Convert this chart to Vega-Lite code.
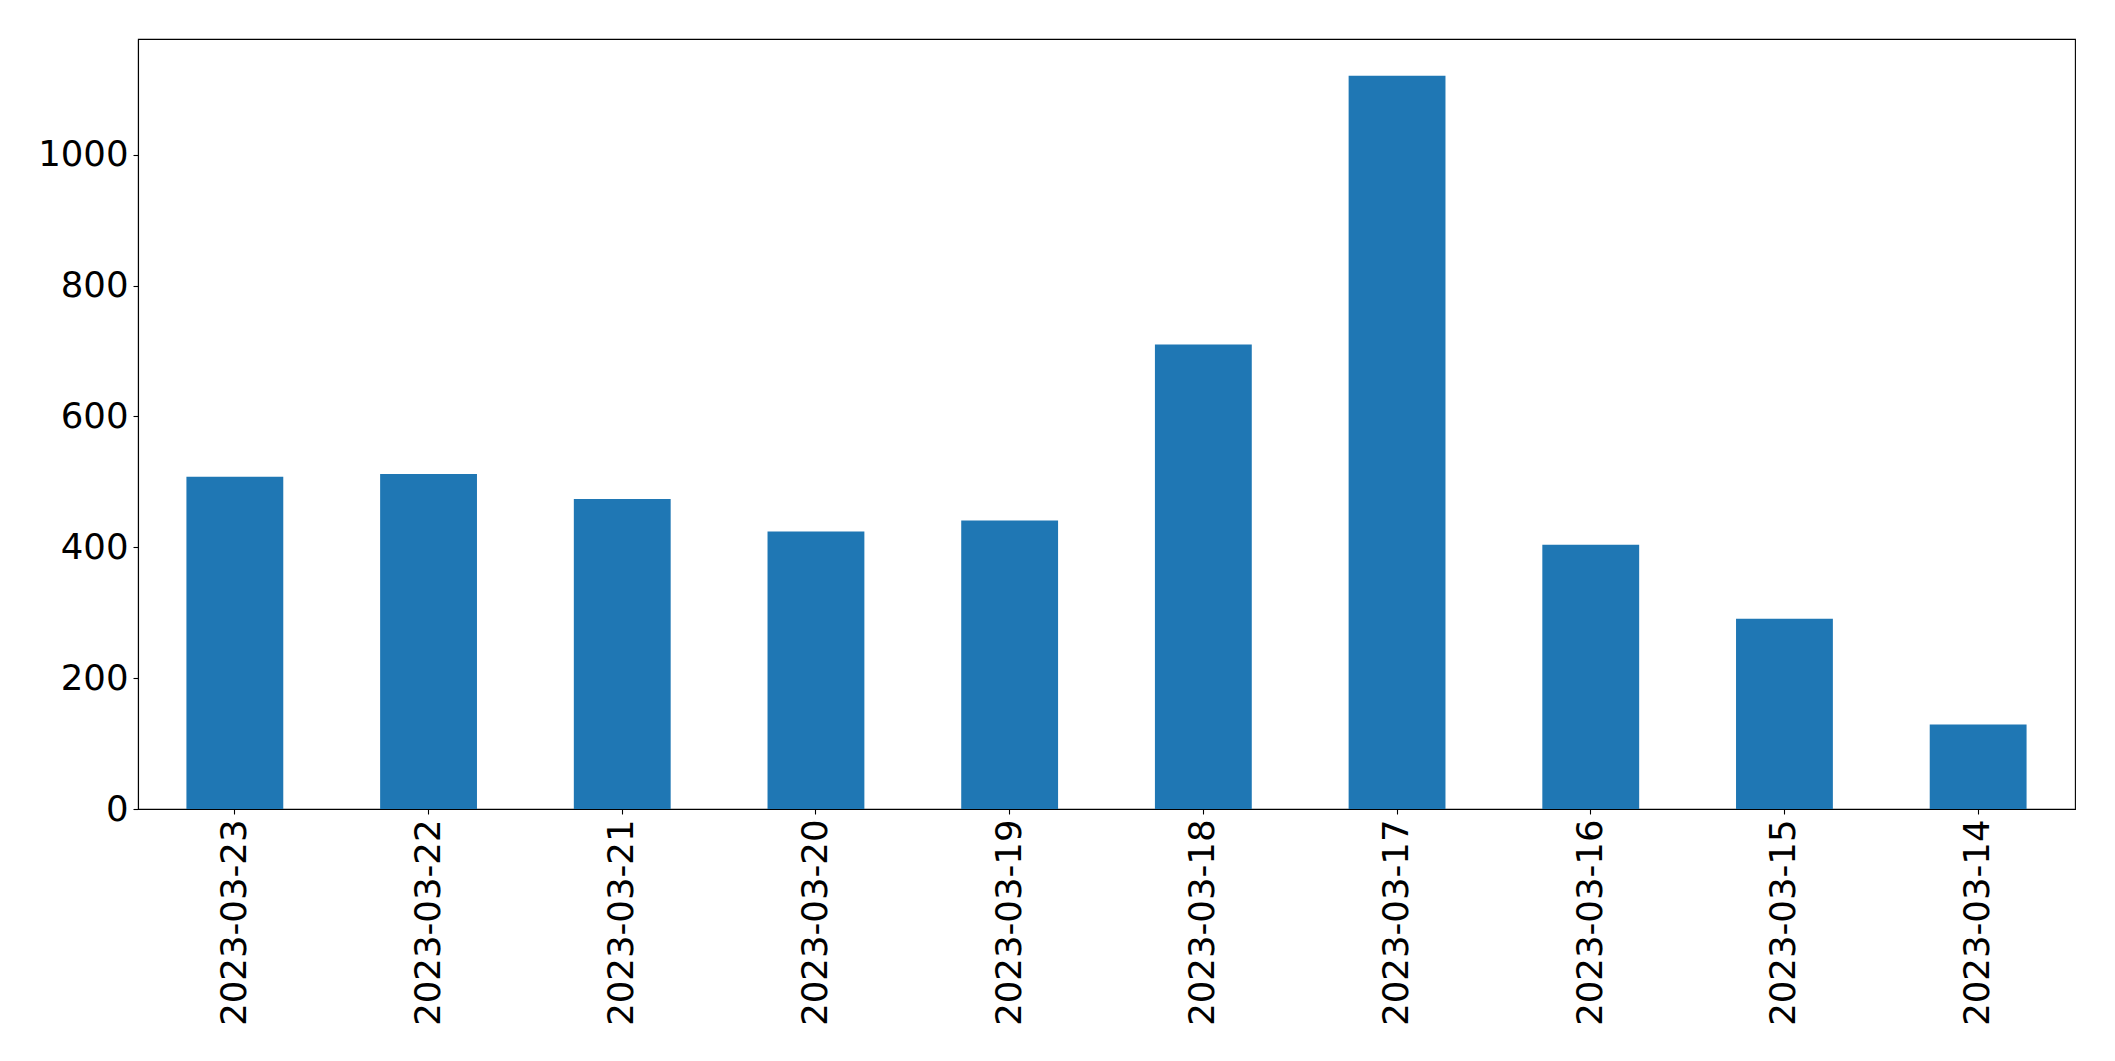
{
  "$schema": "https://vega.github.io/schema/vega-lite/v6.json",
  "width": 1937,
  "height": 770,
  "autosize": {"type": "none"},
  "padding": {"left": 138, "top": 39, "right": 40, "bottom": 252},
  "background": "white",
  "data": {
    "values": [
      {"date": "2023-03-23", "count": 508},
      {"date": "2023-03-22", "count": 512},
      {"date": "2023-03-21", "count": 474},
      {"date": "2023-03-20", "count": 424},
      {"date": "2023-03-19", "count": 441},
      {"date": "2023-03-18", "count": 710},
      {"date": "2023-03-17", "count": 1121},
      {"date": "2023-03-16", "count": 404},
      {"date": "2023-03-15", "count": 291},
      {"date": "2023-03-14", "count": 129}
    ]
  },
  "mark": {"type": "bar", "color": "#1f77b4"},
  "encoding": {
    "x": {
      "field": "date",
      "type": "nominal",
      "sort": null,
      "scale": {"paddingInner": 0.5, "paddingOuter": 0.25},
      "axis": {
        "title": null,
        "labelAngle": -90,
        "labelLimit": 0,
        "labelFont": "DejaVu Sans",
        "labelFontSize": 35.5,
        "labelColor": "black",
        "labelPadding": 5,
        "tickColor": "black",
        "tickSize": 5,
        "tickWidth": 1.1,
        "domainColor": "black",
        "domainWidth": 1.1
      }
    },
    "y": {
      "field": "count",
      "type": "quantitative",
      "scale": {"domain": [0, 1177], "nice": false, "zero": true},
      "axis": {
        "title": null,
        "values": [0, 200, 400, 600, 800, 1000],
        "format": "d",
        "grid": false,
        "labelLimit": 0,
        "labelFont": "DejaVu Sans",
        "labelFontSize": 35.5,
        "labelColor": "black",
        "labelPadding": 5,
        "tickColor": "black",
        "tickSize": 5,
        "tickWidth": 1.1,
        "domainColor": "black",
        "domainWidth": 1.1
      }
    }
  },
  "config": {
    "view": {"stroke": "black", "strokeWidth": 1.1},
    "axis": {"labelFlush": false, "labelOverlap": false}
  }
}
